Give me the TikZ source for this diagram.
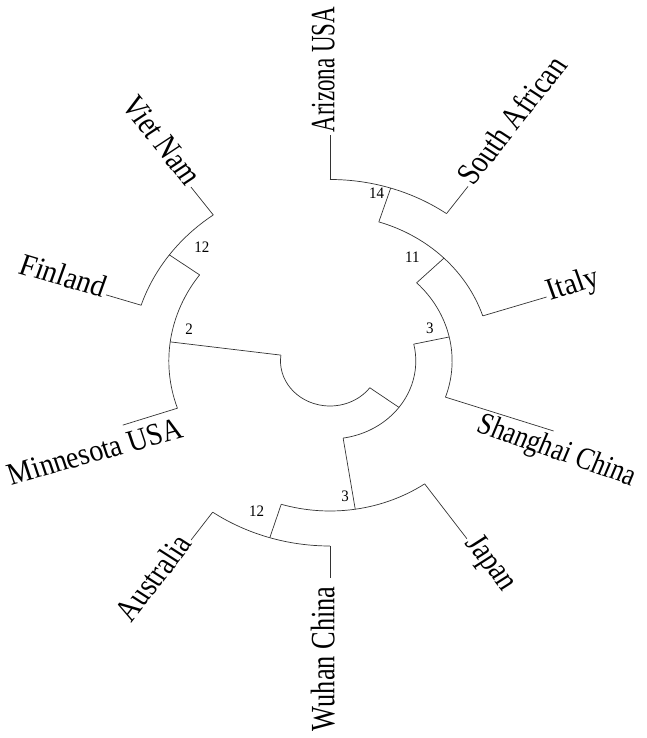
\documentclass[tikz,border=0pt]{standalone}
\usepackage{fontspec}
\setmainfont{Liberation Serif}
\usepackage{graphicx}
\usetikzlibrary{calc}

% labels in the figure are set in a narrowed serif
\newcommand{\narrow}[2][0.85]{\scalebox{#1}[1]{#2}}

\tikzset{
  branch/.style={line width=0.7pt, draw=black!80},
  taxon/.style={font=\fontsize{31}{36}\selectfont, inner sep=1.5pt, outer sep=0pt,
                text height=8pt, text depth=0pt, transform shape},
  support/.style={font=\fontsize{16}{18}\selectfont, inner sep=0pt, transform shape},
}

\begin{document}
\begin{tikzpicture}
\useasboundingbox (-330pt,-377pt) rectangle (317pt,361pt);

% the whole tree is slightly wider than tall
\begin{scope}[xscale=1.1]

% ---------------- internal nodes (polar, centre of the tree) ----------------
\coordinate (rootL)  at (172.5:45pt);
\coordinate (rootR)  at (323.5:45pt);

% left clade
\coordinate (c2)     at (172.5:146.5pt);
\coordinate (c2up)   at (144:146.5pt);
\coordinate (c2dn)   at (198.8:146.5pt);
\coordinate (c12l)   at (144:180.5pt);
\coordinate (c12lup) at (126:180.5pt);
\coordinate (c12ldn) at (162:180.5pt);

% right clade
\coordinate (cin)    at (323.5:78pt);
\coordinate (cinup)  at (12.5:78pt);
\coordinate (cindn)  at (-81.2:78pt);
\coordinate (c3r)    at (12.5:111pt);
\coordinate (c3rup)  at (44.8:111pt);
\coordinate (c3rdn)  at (-19:111pt);
\coordinate (c11)    at (44.8:146pt);
\coordinate (c11up)  at (72.3:146pt);
\coordinate (c11dn)  at (18:146pt);
\coordinate (c14)    at (72.3:181.5pt);
\coordinate (c14up)  at (90:181.5pt);
\coordinate (c14dn)  at (54.3:181.5pt);
\coordinate (c3b)    at (-81.2:150pt);
\coordinate (c3bup)  at (-55:150pt);
\coordinate (c3bdn)  at (-107.2:150pt);
\coordinate (c12b)   at (-107.2:185pt);
\coordinate (c12bup) at (-90:185pt);
\coordinate (c12bdn) at (-125.2:185pt);

% arcs joining the children of each node
\draw[branch] (rootL)  arc[start angle=172.5, end angle=323.5, radius=45pt];
\draw[branch] (c2up)   arc[start angle=144, end angle=198.8, radius=146.5pt];
\draw[branch] (c12lup) arc[start angle=126, end angle=162, radius=180.5pt];
\draw[branch] (cinup)  arc[start angle=12.5, end angle=-81.2, radius=78pt];
\draw[branch] (c3rup)  arc[start angle=44.8, end angle=-19, radius=111pt];
\draw[branch] (c11up)  arc[start angle=72.3, end angle=18, radius=146pt];
\draw[branch] (c14up)  arc[start angle=90, end angle=54.3, radius=181.5pt];
\draw[branch] (c3bup)  arc[start angle=-55, end angle=-107.2, radius=150pt];
\draw[branch] (c12bup) arc[start angle=-90, end angle=-125.2, radius=185pt];

% radial stems
\draw[branch] (rootL) -- (c2);
\draw[branch] (c2up)  -- (c12l);
\draw[branch] (rootR) -- (cin);
\draw[branch] (cinup) -- (c3r);
\draw[branch] (c3rup) -- (c11);
\draw[branch] (c11up) -- (c14);
\draw[branch] (cindn) -- (c3b);
\draw[branch] (c3bdn) -- (c12b);

% ---------------- leaves ----------------
\coordinate (arizonaEnd)   at (90:226pt);
\coordinate (safricaEnd)   at (54.3:215pt);
\coordinate (italyEnd)     at (18:207pt);
\coordinate (shanghaiEnd)  at (-19:215pt);
\coordinate (japanEnd)     at (-55:217pt);
\coordinate (wuhanEnd)     at (-90:217pt);
\coordinate (australiaEnd) at (-125.2:219pt);
\coordinate (minnesotaEnd) at (198.8:199pt);
\coordinate (finlandEnd)   at (162:214pt);
\coordinate (vietnamEnd)   at (126:215pt);

\draw[branch] (c14up)  -- (arizonaEnd);
\draw[branch] (c14dn)  -- (safricaEnd);
\draw[branch] (c11dn)  -- (italyEnd);
\draw[branch] (c3rdn)  -- (shanghaiEnd);
\draw[branch] (c3bup)  -- (japanEnd);
\draw[branch] (c12bup) -- (wuhanEnd);
\draw[branch] (c12bdn) -- (australiaEnd);
\draw[branch] (c2dn)   -- (minnesotaEnd);
\draw[branch] (c12ldn) -- (finlandEnd);
\draw[branch] (c12lup) -- (vietnamEnd);

\node[taxon, anchor=west, rotate=90] (arizona) at (90:227pt) {\narrow[0.74]{Arizona USA}};
\node[taxon, anchor=west, rotate=54.3] (safrica) at (54.3:216pt) {\narrow{South African}};
\node[taxon, anchor=west, rotate=18] (italy) at (18:208pt) {\narrow{Italy}};
% these two labels sit below their branches, not at the tips
\node[taxon, anchor=base west, rotate=-21] (shanghai) at (131pt,-70pt) {\narrow[0.77]{Shanghai China}};
\node[taxon, anchor=west, rotate=-55] (japan) at (-55:218pt) {\narrow{Japan}};
\node[taxon, anchor=east, rotate=90] (wuhan) at (-90:224pt) {\narrow{Wuhan China}};
\node[taxon, anchor=east, rotate=54.8] (australia) at (-125.2:220pt) {\narrow{Australia}};
\node[taxon, anchor=base east, rotate=17] (minnesota) at (-130.5pt,-75.7pt) {\narrow[0.82]{Minnesota USA}};
\node[taxon, anchor=east, rotate=-18] (finland) at (162:215pt) {\narrow{Finland}};
\node[taxon, anchor=east, rotate=-54] (vietnam) at (126:216pt) {\narrow{Viet Nam}};

% ---------------- support values ----------------
\node[support] (bs14)  at (75.8:173pt)   {\narrow{14}};
\node[support] (bs11)  at (54.2:128pt)   {\narrow{11}};
\node[support] (bs3r)  at (19.8:96.6pt)  {\narrow{3}};
\node[support] (bs2)   at (166.1:132pt)  {\narrow{2}};
\node[support] (bs12l) at (135.8:162.6pt) {\narrow{12}};
\node[support] (bs3b)  at (-84.2:135.7pt) {\narrow{3}};
\node[support] (bs12b) at (-114:164pt)   {\narrow{12}};
\end{scope}
\end{tikzpicture}
\end{document}
